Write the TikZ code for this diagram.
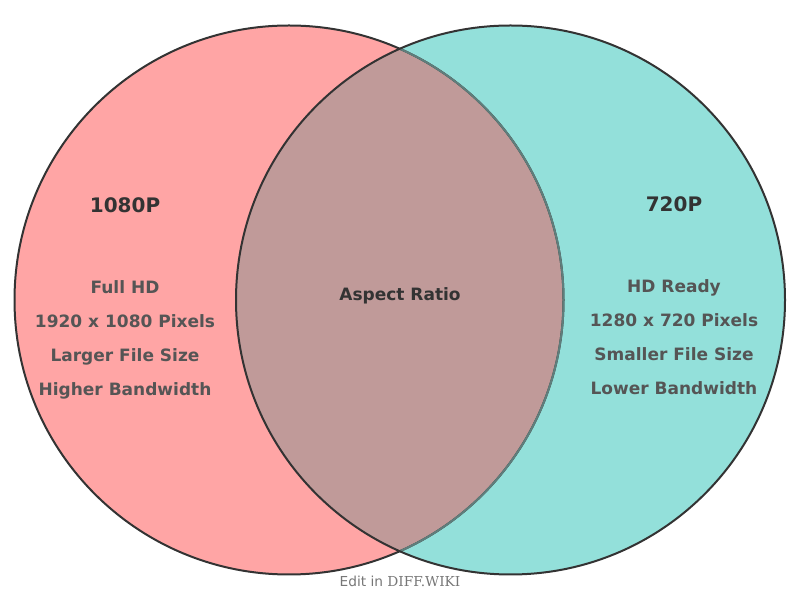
\documentclass[tikz,border=0pt]{standalone}
\usepackage{fontspec}
\setmainfont{DejaVu Sans}
\newfontfamily\wikifont{DejaVu Serif}
\usetikzlibrary{positioning}
\definecolor{redfill}{HTML}{FFA5A5}
\definecolor{tealfill}{HTML}{93E0DA}
\definecolor{mixfill}{HTML}{C09A99}
\definecolor{ringgray}{HTML}{333333}
\definecolor{ringsoft}{HTML}{5F7E7C}
\definecolor{titlegray}{HTML}{333333}
\definecolor{featgray}{HTML}{555555}
\definecolor{notegray}{HTML}{777777}

\begin{document}
\begin{tikzpicture}[x=0.75pt, y=0.75pt,
  ring/.style={draw=ringgray, line width=1.5pt},
  title/.style={text=titlegray, font=\fontsize{15}{18}\selectfont\bfseries,
    text height=0.73em, text depth=0pt},
  feat/.style={text=featgray, font=\fontsize{12.75}{15}\selectfont\bfseries,
    text height=0.73em, text depth=0pt},
  note/.style={text=notegray, font=\fontsize{10.3}{12}\selectfont}]
  \useasboundingbox (0,0) rectangle (800,600);
  \coordinate (lc) at (289,300);
  \coordinate (rc) at (510.5,300);
  % sets and overlap
  \fill[redfill] (lc) circle[radius=274.5];
  \fill[tealfill] (rc) circle[radius=274.5];
  \begin{scope}
    \clip (lc) circle[radius=274.5];
    \fill[mixfill] (rc) circle[radius=274.5];
  \end{scope}
  \draw[ring] (lc) circle[radius=274.5];
  \begin{scope}
    \clip (rc) circle[radius=274.5];
    \draw[ring, draw=ringsoft] (lc) circle[radius=274.5];
  \end{scope}
  \draw[ring] (rc) circle[radius=274.5];
  % labels
  \node[title] (p1080) at (125,392.5) {1080P};
  \node[title] (p720) at (674,393.5) {720P};
  \foreach \txt [count=\i] in {Full HD, 1920 x 1080 Pixels, Larger File Size, Higher Bandwidth}
    \node[feat] (l\i) at (125,345.5-34*\i) {\txt};
  \foreach \txt [count=\i] in {HD Ready, 1280 x 720 Pixels, Smaller File Size, Lower Bandwidth}
    \node[feat] (r\i) at (674,346.5-34*\i) {\txt};
  \node[feat, text=titlegray] (both) at (400,304) {Aspect Ratio};
  \node[note] (credit) at (400,19) {Edit in {\wikifont DIFF.WIKI}};
\end{tikzpicture}
\end{document}
